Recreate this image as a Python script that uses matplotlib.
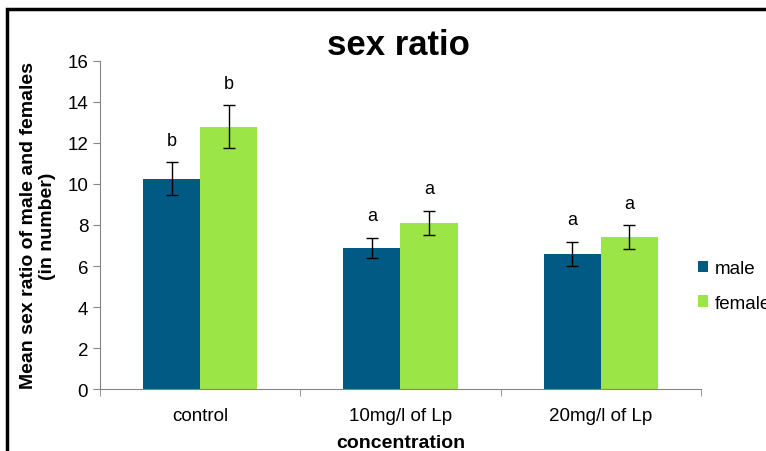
import numpy as np
import matplotlib.pyplot as plt
from matplotlib.patches import Rectangle

plt.rcParams['font.family'] = ['Liberation Sans', 'DejaVu Sans']

# Data
categories = ['control', '10mg/l of Lp', '20mg/l of Lp']
male = [10.25, 6.88, 6.59]
male_err = [0.80, 0.50, 0.60]
female = [12.78, 8.10, 7.41]
female_err = [1.05, 0.60, 0.58]
male_letters = ['b', 'a', 'a']
female_letters = ['b', 'a', 'a']

male_color = '#005A83'
female_color = '#9BE546'
axis_gray = '#868686'

fig = plt.figure(figsize=(7.66, 4.52), dpi=100)
ax = fig.add_axes([0.1305, 0.137, 0.7845, 0.726])

x = np.arange(len(categories))
w = 0.285
ax.bar(x - w/2, male, w, color=male_color, label='male', zorder=2)
ax.bar(x + w/2, female, w, color=female_color, label='female', zorder=2)
ax.errorbar(x - w/2, male, yerr=male_err, fmt='none', ecolor='black',
            elinewidth=1, capsize=4, capthick=1, zorder=3)
ax.errorbar(x + w/2, female, yerr=female_err, fmt='none', ecolor='black',
            elinewidth=1, capsize=4, capthick=1, zorder=3)

# significance letters
for i in range(len(categories)):
    ax.text(x[i] - w/2, male[i] + male_err[i] + 0.65, male_letters[i],
            ha='center', va='bottom', fontsize=13)
    ax.text(x[i] + w/2, female[i] + female_err[i] + 0.65, female_letters[i],
            ha='center', va='bottom', fontsize=13)

ax.set_xlim(-0.5, len(categories) - 0.5)
ax.set_ylim(0, 16)
ax.set_yticks(range(0, 17, 2))
ax.set_xticks(x)
ax.set_xticklabels(categories, fontsize=13.5)
ax.set_xticks(np.arange(-0.5, len(categories), 1), minor=True)
ax.tick_params(axis='x', which='major', length=0, pad=13)
ax.tick_params(axis='x', which='minor', length=5, color=axis_gray, direction='out')
ax.tick_params(axis='y', length=5, color=axis_gray, labelsize=13.5, direction='out')

for s in ['top', 'right']:
    ax.spines[s].set_visible(False)
for s in ['left', 'bottom']:
    ax.spines[s].set_color(axis_gray)

ax.set_xlabel('concentration', fontsize=14, fontweight='bold', labelpad=7)
ax.set_ylabel('Mean sex ratio of male and females\n(in number)', fontsize=14,
              fontweight='bold', labelpad=8)
fig.text(0.52, 0.9, 'sex ratio', ha='center', va='center', fontsize=25,
         fontweight='bold')

fig.legend(loc='upper left', bbox_to_anchor=(0.889, 0.46), frameon=False,
           fontsize=13.5, handlelength=0.55, handleheight=0.55, handletextpad=0.35,
           labelspacing=0.95)

# outer border of the chart area
fig.patches.append(Rectangle((7/766, -0.1), 1.2, 1 - 10/452 + 0.1,
                             transform=fig.transFigure, fill=False,
                             edgecolor='black', linewidth=2.5))

fig.savefig('out.png', dpi=100)
